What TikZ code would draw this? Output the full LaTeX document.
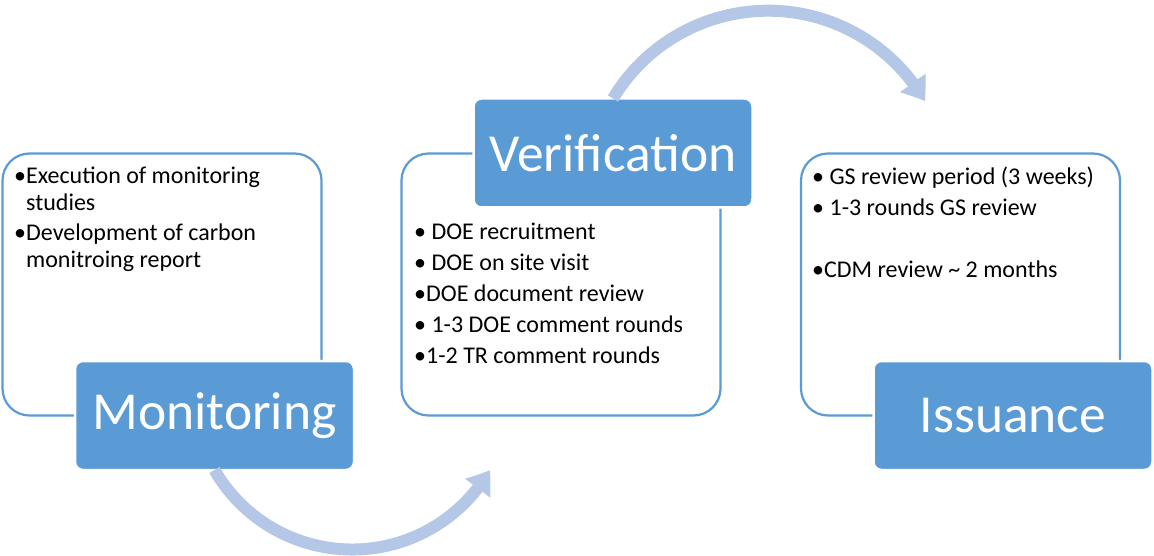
\documentclass[tikz,border=0pt]{standalone}
\usepackage{fontspec}
\setmainfont{Carlito}
\usetikzlibrary{arrows.meta,bending}
\definecolor{stageblue}{HTML}{5B9BD5}
\definecolor{flowblue}{HTML}{B4C7E7}
\begin{document}
\begin{tikzpicture}[x=1pt, y=1pt,
  panel/.style={draw=stageblue, line width=2.2pt, rounded corners=27pt, fill=white,
    minimum width=319pt, minimum height=262pt, inner sep=0pt, outer sep=0pt},
  stage/.style={draw=white, line width=2.5pt, rounded corners=8pt, fill=stageblue,
    minimum width=279pt, minimum height=109pt, inner sep=0pt, outer sep=0pt,
    text=white, font=\fontsize{53.5}{60}\selectfont},
  items/.style={anchor=north west, align=left, inner sep=0pt,
    font=\fontsize{24}{31}\selectfont},
  flow/.style={draw=flowblue, line width=12pt, -{Triangle[width=30pt, length=22pt, bend]}}]
  \useasboundingbox (0,0) rectangle (1154,555);
  % Background panels
  \node[panel] (monpanel) at (162,270.5) {};
  \node[panel] (verpanel) at (561,270.5) {};
  \node[panel] (isspanel) at (960.5,270.5) {};
  % Stage titles
  \node[stage] (mon) at (214.5,139.5) {Monitoring};
  \node[stage] (ver) at (613,402) {Verification};
  \node[stage] (iss) at (1013,139.5) {Issuance};
  % Panel texts
  \node[items, font=\fontsize{24}{27}\selectfont] (montext) at (14,388)
    {•Execution of monitoring\\\phantom{•}studies\\[3pt]•Development of carbon\\\phantom{•}monitroing report};
  \node[items] (vertext) at (414,332)
    {• DOE recruitment\\• DOE on site visit\\•DOE document review\\• 1-3 DOE comment rounds\\•1-2 TR comment rounds};
  \node[items] (isstext) at (812,388)
    {• GS review period (3 weeks)\\• 1-3 rounds GS review\\[31pt]•CDM review \textasciitilde{} 2 months};
  % Flow from verification to issuance
  \draw[flow] (ver.north) arc[start angle=149, end angle=30, radius=181];
  % Flow from monitoring to verification
  \draw[flow] (mon.south) arc[start angle=210, end angle=330, radius=159];
\end{tikzpicture}
\end{document}
